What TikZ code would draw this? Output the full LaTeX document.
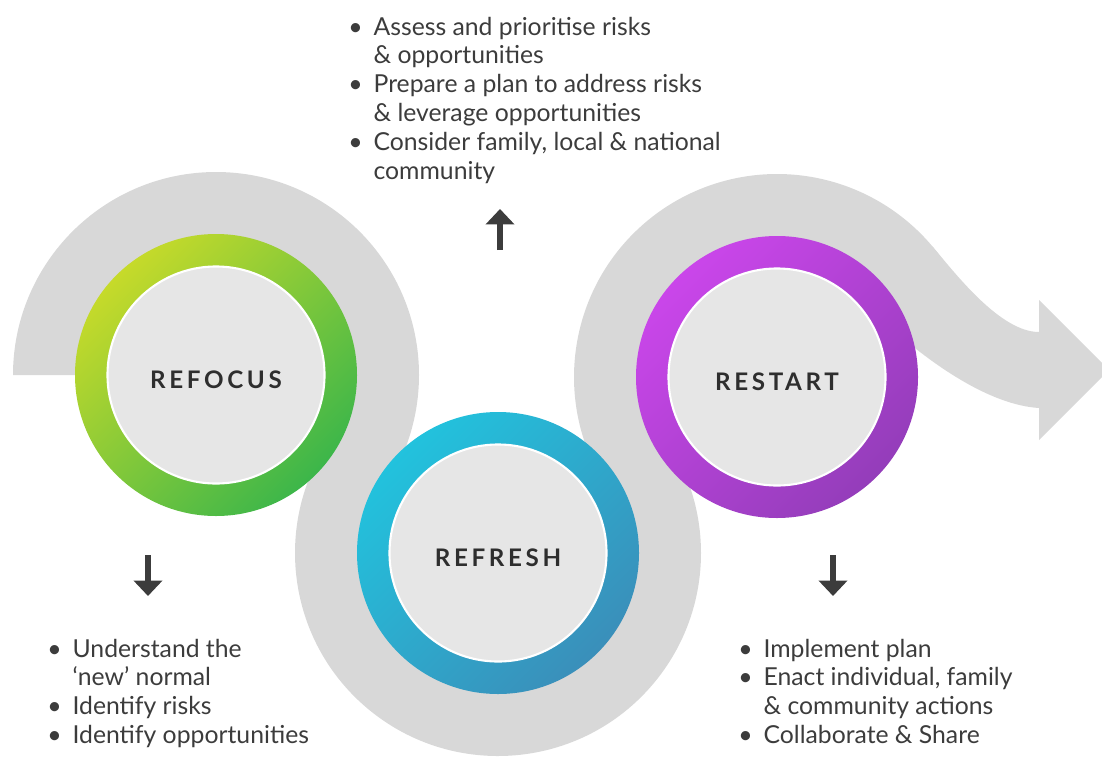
\documentclass[tikz,border=0pt]{standalone}
\usepackage{fontspec}
\setmainfont{Lato}
\newfontfamily\labelfont[LetterSpace=15]{Lato}
\usetikzlibrary{arrows.meta,calc}

\definecolor{bandgrey}{HTML}{D8D8D8}
\definecolor{discgrey}{HTML}{E6E6E6}
\definecolor{inkgrey}{HTML}{3C3C3C}
\definecolor{headgrey}{HTML}{2E2E2E}
\definecolor{focusA}{HTML}{C6DA2A}
\definecolor{focusB}{HTML}{3CB64A}
\definecolor{freshA}{HTML}{22C2DD}
\definecolor{freshB}{HTML}{3A8FBA}
\definecolor{startA}{HTML}{CA46EA}
\definecolor{startB}{HTML}{943DBA}

\newcommand{\bitem}{\makebox[18pt][l]{\textbullet}}
\newcommand{\bcont}{\hspace*{18pt}}

\begin{document}
\begin{tikzpicture}[
	x=0.025cm,
	y=-0.025cm,
	line join=round,
	disc/.style={circle,fill=discgrey,draw=white,line width=1.5pt,minimum size=5.425cm,inner sep=0pt,
		text height=19pt,text depth=0pt,text=headgrey,font=\labelfont\bfseries\fontsize{17.2}{20}\selectfont},
	bullets/.style={anchor=base west,inner sep=0pt,text=inkgrey,font=\fontsize{17.6}{20.6}\selectfont},
	pointer/.style={-{Triangle[width=20pt,length=11pt]},line width=4pt,draw=inkgrey}
	]
	\useasboundingbox (0,0) rectangle (1102,756);
	\clip (0,0) rectangle (1102,756);

	\coordinate (a) at (216,375);
	\coordinate (b) at (498,553);
	\coordinate (c) at (777,377);

	% grey band: three annular pieces and the arrow
	\begin{scope}[bandgrey]
		\fill ($(a)+(180:203)$) arc[start angle=180,end angle=400,radius=203]
			-- ($(a)+(400:120)$) arc[start angle=400,end angle=180,radius=120] -- cycle;
		\fill ($(b)+(220:203)$) arc[start angle=220,end angle=-40,radius=203]
			-- ($(b)+(-40:120)$) arc[start angle=-40,end angle=220,radius=120] -- cycle;
		\fill ($(c)+(140:203)$) arc[start angle=140,end angle=330,radius=203]
			-- ($(c)+(330:120)$) arc[start angle=330,end angle=140,radius=120] -- cycle;
		\fill ($(c)+(320:203)$) .. controls (955,273) and (1000,332) .. (1039,332)
			-- (1039,300) -- (1109,370) -- (1039,440) -- (1039,408)
			.. controls (990,405) and (935,365) .. (905,340) -- (c) -- cycle;
	\end{scope}

	\shade[top color=focusA,bottom color=focusB,shading angle=45] (a) circle (141);
	\shade[top color=freshA,bottom color=freshB,shading angle=45] (b) circle (141);
	\shade[top color=startA,bottom color=startB,shading angle=45] (c) circle (141);

	\node[disc] (refocus) at (a) {REFOCUS};
	\node[disc] (refresh) at (b) {REFRESH};
	\node[disc] (restart) at (c) {RESTART};

	\node[bullets] (assess) at (348,35) {\begin{tabular}[t]{@{}l@{}}
		\bitem Assess and prioritise risks\\
		\bcont\& opportunities\\
		\bitem Prepare a plan to address risks\\
		\bcont\& leverage opportunities\\
		\bitem Consider family, local \& national\\
		\bcont community
	\end{tabular}};
	\node[bullets] (understand) at (47,657) {\begin{tabular}[t]{@{}l@{}}
		\bitem Understand the\\
		\bcont ‘new’ normal\\
		\bitem Identify risks\\
		\bitem Identify opportunities
	\end{tabular}};
	\node[bullets] (implement) at (738,657) {\begin{tabular}[t]{@{}l@{}}
		\bitem Implement plan\\
		\bitem Enact individual, family\\
		\bcont\& community actions\\
		\bitem Collaborate \& Share
	\end{tabular}};

	\coordinate (up-from) at (500,250);
	\coordinate (up-to) at (500,209);
	\coordinate (focus-from) at (148,555);
	\coordinate (focus-to) at (148,596);
	\coordinate (start-from) at (833,555);
	\coordinate (start-to) at (833,596);
	\begin{scope}[pointer]
		\draw (up-from) -- (up-to);
		\draw (focus-from) -- (focus-to);
		\draw (start-from) -- (start-to);
	\end{scope}
\end{tikzpicture}
\end{document}
